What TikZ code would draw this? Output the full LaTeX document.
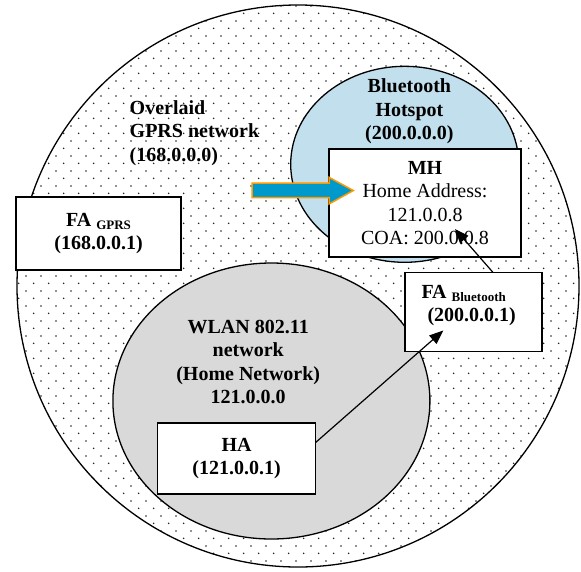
\documentclass[tikz,border=0pt]{standalone}
\usepackage{fontspec}
\setmainfont{Liberation Serif}
\usetikzlibrary{arrows.meta,patterns,calc,shapes.geometric}

% staggered grid of small dots for the GPRS coverage area
\pgfdeclarepatternformonly{sparsedots}{\pgfpointorigin}{\pgfpoint{15.33pt}{15.33pt}}{\pgfpoint{15.33pt}{15.33pt}}{%
  \pgfpathcircle{\pgfpoint{3.83pt}{3.83pt}}{0.9pt}%
  \pgfpathcircle{\pgfpoint{11.5pt}{11.5pt}}{0.9pt}%
  \pgfusepath{fill}}

\definecolor{hotspotblue}{RGB}{193,223,236}
\definecolor{homegray}{RGB}{217,217,217}
\definecolor{arrowblue}{RGB}{0,153,204}
\definecolor{arroworange}{RGB}{255,153,0}

\begin{document}
\begin{tikzpicture}[x=1pt,y=-1pt,
  every node/.style={font=\fontsize{20}{23.5}\selectfont\bfseries, align=center, inner sep=0pt, outer sep=0pt},
  netbox/.style={draw, fill=white, line width=1.4pt},
  area/.style={draw, line width=1.3pt, inner sep=0pt},
  link/.style={line width=1.2pt, -{Triangle[length=14pt,width=11pt]}}]
\fill[white] (0,0) rectangle (581,571);
\useasboundingbox (0,0) rectangle (581,571);

% coverage areas
\node[area, circle, minimum size=562pt, pattern=sparsedots, pattern color=black!85] (gprs) at (298,286) {};
\node[area, ellipse, minimum width=228pt, minimum height=196pt, fill=hotspotblue] (hotspot) at (404.7,164.3) {};
\node[area, ellipse, minimum width=317pt, minimum height=276pt, fill=homegray] (wlan) at (271.4,401) {};

% area labels
\node[anchor=west, align=left] (gprslabel) at (129.7,133) {Overlaid\\GPRS network\\(168.0.0.0)};
\node (hotspotlabel) at (409.4,111.5) {Bluetooth\\Hotspot\\(200.0.0.0)};
\node (wlanlabel) at (248.2,361.8) {WLAN 802.11\\network\\(Home Network)\\121.0.0.0};

% hosts and agents
\node[netbox, minimum width=192pt, minimum height=108pt] (mh) at (425,203)
  {MH\\{\mdseries Home Address:}\\{\mdseries 121.0.0.8}\\{\mdseries COA: 200.0.0.8}};
\node[netbox, minimum width=165pt, minimum height=73pt] (fagprs) at (98.5,233.5)
  {FA \raisebox{-3pt}{\fontsize{13}{13}\selectfont GPRS}\\(168.0.0.1)};
\node[netbox, minimum width=137pt, minimum height=79pt] (fabt) at (473.5,311.7) {};
\node[anchor=west, align=left] (fabtlabel) at (421.5,305.5)
  {FA \raisebox{-3pt}{\fontsize{13}{13}\selectfont Bluetooth}\\\hspace*{6pt}(200.0.0.1)};
\node[netbox, minimum width=158pt, minimum height=71pt] (ha) at (236.6,458.5) {HA\\(121.0.0.1)};

% movement of the mobile host into the hotspot
\draw[fill=arrowblue, draw=arroworange, line width=1.5pt, line join=miter]
  (252,183) -- (329,183) -- (329,177.3) -- (353.3,190.5) -- (329,204) -- (329,197.5) -- (252,197.5) -- cycle;

% tunnelling path HA -> FA -> MH
\coordinate (hatail) at ($(ha.north east)+(0,19.5)$);
\coordinate (fabthead) at ($(fabt.north west)+(38.3,58.3)$);
\coordinate (fabttail) at ($(fabt.north west)+(87.8,0)$);
\coordinate (mhhead) at ($(mh.north west)+(126,80)$);
\draw[link] (hatail) -- (fabthead);
\draw[link] (fabttail) -- (mhhead);
\end{tikzpicture}
\end{document}
